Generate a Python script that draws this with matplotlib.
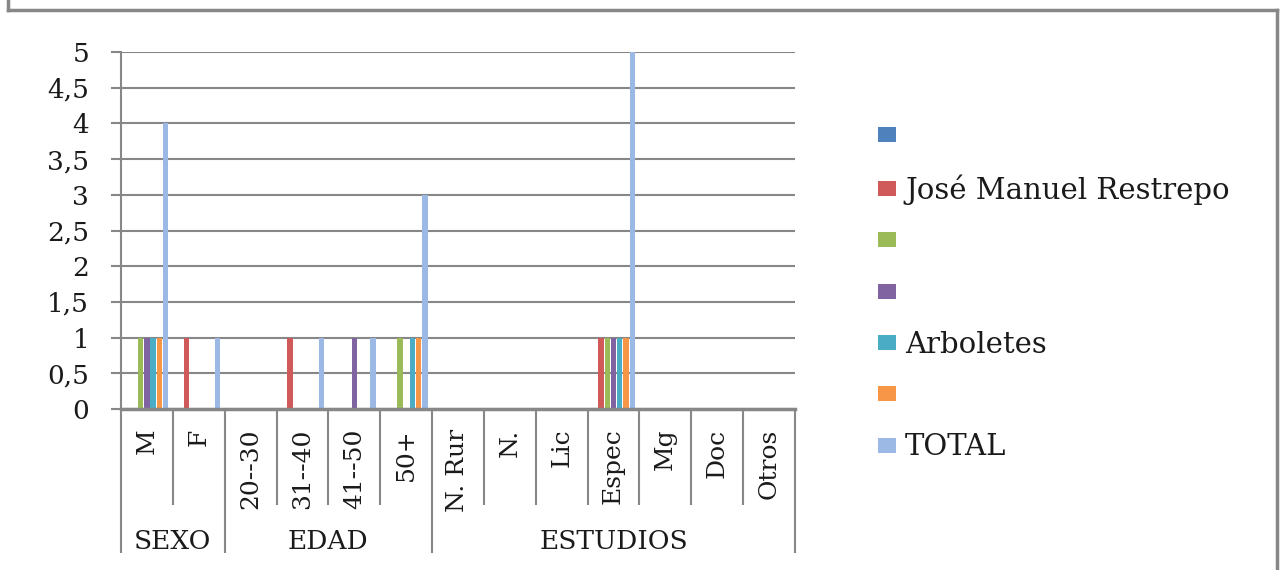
import matplotlib
matplotlib.use("Agg")
import matplotlib.pyplot as plt
from matplotlib.lines import Line2D
from matplotlib.ticker import MultipleLocator, FuncFormatter

FONT = "DejaVu Serif"
FS = 19
CAT_FS = 18
LEG_FS = 21
GRAY = "#878787"
TXT = "#1a1a1a"

categories = ["M", "F", "20--30", "31--40", "41--50", "50+",
              "N. Rur", "N.", "Lic", "Espec", "Mg", "Doc", "Otros"]
groups = ["SEXO", "EDAD", "ESTUDIOS"]
group_sizes = [2, 4, 7]

series_names = ["", "José Manuel Restrepo", "", "", "Arboletes", "", "TOTAL"]
series_colors = ["#4F81BD", "#D05A5A", "#9BBB59", "#8064A2",
                 "#4BACC6", "#F79646", "#9CB9E6"]

s_blue = [0, 0, 0, 0, 0, 0, 0, 0, 0, 0, 0, 0, 0]
s_restrepo = [0, 1, 0, 1, 0, 0, 0, 0, 0, 1, 0, 0, 0]
s_green = [1, 0, 0, 0, 0, 1, 0, 0, 0, 1, 0, 0, 0]
s_purple = [1, 0, 0, 0, 1, 0, 0, 0, 0, 1, 0, 0, 0]
s_arboletes = [1, 0, 0, 0, 0, 1, 0, 0, 0, 1, 0, 0, 0]
s_orange = [1, 0, 0, 0, 0, 1, 0, 0, 0, 1, 0, 0, 0]
s_total = [4, 1, 0, 1, 1, 3, 0, 0, 0, 5, 0, 0, 0]
series = [s_blue, s_restrepo, s_green, s_purple, s_arboletes, s_orange, s_total]

W, H = 1285, 570
fig = plt.figure(figsize=(W / 100, H / 100), dpi=100)
ax = fig.add_axes([121 / W, 1 - 409 / H, (795 - 121) / W, (409 - 52) / H])

pitch = 0.1206
bar_w = 0.104
handles = []
for j, (vals, color) in enumerate(zip(series, series_colors)):
    xs = [i + 0.5 + (j - 3) * pitch for i in range(len(categories))]
    b = ax.bar(xs, vals, width=bar_w, color=color, zorder=3)
    handles.append(b)

ax.set_xlim(0, len(categories))
ax.set_ylim(0, 5)
ax.yaxis.set_major_locator(MultipleLocator(0.5))
ax.yaxis.set_major_formatter(
    FuncFormatter(lambda v, p: f"{v:g}".replace(".", ",")))
ax.grid(axis="y", color=GRAY, lw=1.5, zorder=0)
ax.set_xticks([])
for side in ["top", "right"]:
    ax.spines[side].set_visible(False)
ax.spines["left"].set_color(GRAY)
ax.spines["left"].set_linewidth(1.5)
ax.spines["bottom"].set_color(GRAY)
ax.spines["bottom"].set_linewidth(2.5)
ax.spines["bottom"].set_zorder(4)
ax.tick_params(axis="y", length=7, width=1.5, color=GRAY, pad=16,
               labelsize=FS, labelcolor=TXT, labelfontfamily=FONT)

# category and group separators under the axis
trans = ax.get_xaxis_transform()
bounds = [0]
for n in group_sizes:
    bounds.append(bounds[-1] + n)
for i in range(len(categories) + 1):
    low = -0.403 if i in bounds else -0.269
    ax.plot([i, i], [0, low], transform=trans, color=GRAY, lw=1.5,
            clip_on=False, solid_capstyle="butt")

for i, cat in enumerate(categories):
    ax.text(i + 0.5, -0.055, cat, transform=trans, rotation=90,
            ha="center", va="top", fontsize=CAT_FS, family=FONT, color=TXT)

for g, lo, hi in zip(groups, bounds[:-1], bounds[1:]):
    ax.text((lo + hi) / 2, -0.37, g, transform=trans, ha="center",
            va="center", fontsize=FS, family=FONT, color=TXT)

leg = fig.legend(handles, series_names, loc="upper left",
                 bbox_to_anchor=(878 / W, 1 - 123 / H), frameon=False,
                 prop={"family": FONT, "size": LEG_FS},
                 handlelength=0.62, handleheight=0.41, handletextpad=0.31,
                 labelspacing=0.8, borderpad=0, borderaxespad=0)
for t in leg.get_texts():
    t.set_color(TXT)

# outer chart border
for xs, ys in [([8, 8], [0, 10]), ([8, 1277], [10, 10]), ([1277, 1277], [10, H])]:
    fig.add_artist(Line2D([x / W for x in xs], [1 - y / H for y in ys],
                          color=GRAY, lw=2.5))

fig.savefig("out.png", dpi=100)
